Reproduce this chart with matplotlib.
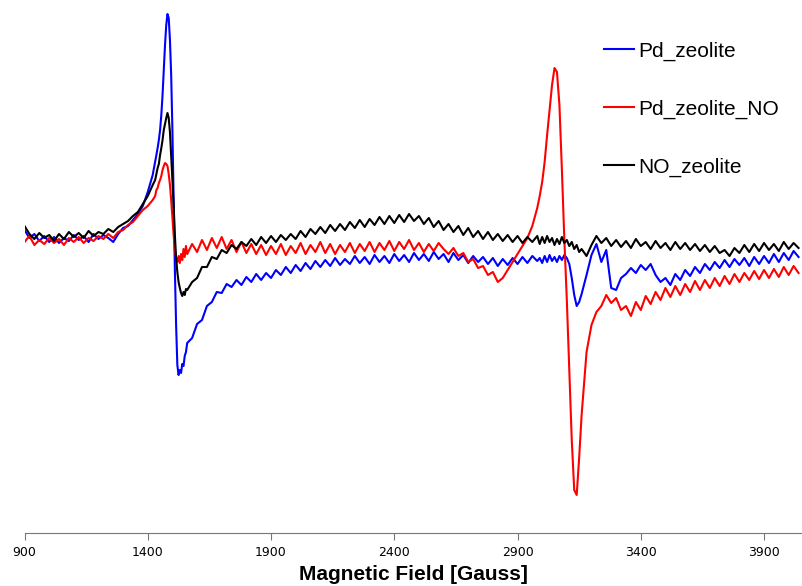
import numpy as np
import matplotlib
matplotlib.use('Agg')
import matplotlib.pyplot as plt

# field sampling (Gauss): coarse on the flat parts, finer around the two signals
campo = np.concatenate([
    np.arange(900, 1421, 20),    # 27
    np.arange(1430, 1561, 5),    # 27
    np.arange(1580, 2981, 20),   # 71
    np.arange(2990, 3161, 10),   # 18
    np.arange(3180, 4041, 20),   # 44
])

# intensities (arbitrary units)
pd_zeolite = [
    10, 2, 6, -1, 4, -2, 3, -3, 2, -1, 5, 0, 4, -2, 6, 1, 5, 2, -2, 6, 12, 14, 20, 26, 34, 48, 65,
    78, 85, 92, 100, 110, 125, 145, 170, 195, 215, 226, 222, 200, 165, 110, 40, -30, -85, -125,
    -135, -130, -133, -124, -126, -116, -112, -103,
    -98, -84, -80, -66, -62, -52, -53, -44, -47, -40, -45, -37, -42, -34, -40, -33, -38, -30,
    -35, -27, -33, -25, -31, -23, -29, -21, -27, -20, -26, -18, -25, -19, -24, -16, -23, -17,
    -24, -15, -22, -16, -23, -14, -21, -15, -22, -13, -20, -14, -21, -12, -19, -14, -22, -13,
    -20, -15, -23, -16, -22, -17, -24, -18, -26, -19, -25, -18, -24, -17, -23, -16, -21,
    -18, -23, -16, -22, -15, -21, -17, -22, -16, -20, -15, -18, -24, -38, -55, -66, -62, -54,
    -35, -15, -4, -22, -10, -48, -50, -38, -34, -28, -33, -25, -30, -24, -35, -42, -38, -45,
    -34, -40, -30, -36, -27, -33, -24, -30, -22, -28, -20, -27, -19, -25, -18, -26, -17, -24,
    -16, -23, -14, -22, -13, -20, -11, -17,
]

pd_zeolite_no = [
    -2, 4, -5, 0, -4, 2, -3, 1, -5, 2, -2, 3, -3, 2, -1, 4, 1, 6, 2, 8, 10, 15, 18, 24, 30, 34, 40,
    44, 50, 52, 57, 60, 64, 70, 74, 77, 76, 74, 66, 55, 40, 22, 5, -10, -18, -22, -16, -23, -14,
    -20, -9, -17, -6, -14,
    -4, -12, 0, -10, 2, -8, 3, -9, 0, -12, -2, -13, -4, -14, -5, -15, -6, -14, -4, -15, -6, -13,
    -3, -14, -5, -12, -2, -13, -4, -14, -5, -12, -3, -13, -4, -11, -2, -12, -3, -10, -1, -11,
    -2, -9, 0, -10, -3, -12, -4, -11, -3, -9, -14, -8, -16, -13, -22, -19, -28, -26, -35, -32,
    -42, -38, -30, -22, -14, -6, 2, 14, 32,
    44, 58, 78, 105, 130, 155, 172, 168, 135, 70, 0, -60, -130, -200, -250, -255, -218, -175,
    -112, -85, -72, -66, -55, -63, -58, -70, -66, -76, -62, -70, -56, -64, -52, -60, -48, -57,
    -46, -55, -44, -52, -41, -50, -40, -48, -38, -46, -36, -44, -34, -42, -33, -40, -31, -39,
    -30, -38, -29, -37, -27, -35, -26, -33,
]

no_zeolite = [
    14, 6, 1, 7, 2, 5, -1, 6, 1, 8, 3, 7, 2, 9, 4, 8, 6, 11, 8, 13, 16, 19, 24, 28, 36, 44, 55,
    60, 66, 72, 76, 85, 92, 100, 110, 116, 122, 127, 122, 108, 85, 60, 35, 5, -18, -32, -42,
    -48, -53, -56, -52, -55, -49, -50,
    -42, -38, -27, -27, -17, -19, -10, -13, -5, -9, -2, -6, 1, -5, 3, -3, 4, -2, 5, 0, 6, 1,
    9, 3, 11, 6, 13, 7, 15, 9, 16, 10, 18, 12, 20, 13, 21, 15, 23, 16, 24, 17, 25, 18, 26, 19,
    24, 16, 22, 13, 19, 10, 16, 8, 14, 5, 12, 3, 9, 1, 8, 0, 6, -1, 5, -2, 4, -3, 3, -2, 4,
    -4, 3, -3, 4, -2, 2, -5, 1, -4, 3, -3, 0, -6, -2, -9, -5, -12, -9,
    -16, -5, 4, -3, 2, -6, 0, -7, -1, -8, 1, -6, -2, -9, -1, -8, -3, -10, -2, -9, -3, -10, -4,
    -11, -5, -12, -6, -13, -10, -16, -8, -13, -5, -12, -4, -11, -3, -10, -4, -11, -2, -9, -3, -8,
]

series = [
    ('Pd_zeolite', pd_zeolite, '#0000ff'),
    ('Pd_zeolite_NO', pd_zeolite_no, '#ff0000'),
    ('NO_zeolite', no_zeolite, '#000000'),
]

for nome, valores, _ in series:
    assert len(valores) == len(campo), (nome, len(valores), len(campo))

fig = plt.figure(figsize=(8.02, 5.86), dpi=100)
ax = fig.add_axes([24.5 / 802, 1 - 533 / 586, 1 - 24.5 / 802, 533 / 586])

for nome, valores, cor in series:
    ax.plot(campo, valores, color=cor, linewidth=1.5, label=nome)

ax.set_xlim(900, 4054)
ax.set_ylim(-293, 240)
ax.set_xticks(range(900, 4000, 500))
ax.set_yticks([])

for lado in ['top', 'right', 'left']:
    ax.spines[lado].set_visible(False)
ax.spines['bottom'].set_color('#777777')
ax.tick_params(axis='x', colors='#777777', length=5, labelcolor='black', labelsize=9, pad=4)

ax.set_xlabel('Magnetic Field [Gauss]', fontsize=15, fontweight='bold',
              family=['Liberation Sans', 'DejaVu Sans'], labelpad=5)

ax.legend(loc='upper left', bbox_to_anchor=(0.745, 0.922), frameon=False,
          prop={'family': ['Liberation Sans', 'DejaVu Sans'], 'size': 15},
          handlelength=1.45, handletextpad=0.2, labelspacing=1.86,
          borderpad=0, borderaxespad=0)

fig.savefig('out.png', dpi=100)
